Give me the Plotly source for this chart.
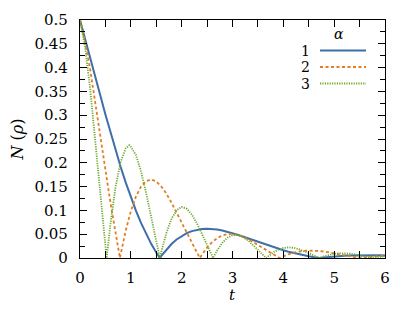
import plotly.graph_objects as go

# time samples (with zero crossings inserted)
t1 = [0.0,0.1,0.2,0.3,0.4,0.5,0.6,0.7,0.8,0.9,1.0,1.1,1.2,1.3,1.4,1.5,1.5708,1.6,1.7,1.8,1.9,2.0,2.1,2.2,2.3,2.4,2.5,2.6,2.7,2.8,2.9,3.0,3.1,3.2,3.3,3.4,3.5,3.6,3.7,3.8,3.9,4.0,4.1,4.2,4.3,4.4,4.5,4.6,4.7,4.7124,4.8,4.9,5.0,5.1,5.2,5.3,5.4,5.5,5.6,5.7,5.8,5.9,6.0]
n1 = [0.5,0.4616,0.4218,0.3815,0.3412,0.3016,0.2631,0.2262,0.1912,0.1583,0.1276,0.0994,0.0737,0.0505,0.0298,0.0115,0.0,0.0044,0.0180,0.0294,0.0389,0.0464,0.0522,0.0565,0.0594,0.0610,0.0614,0.0610,0.0597,0.0578,0.0552,0.0522,0.0489,0.0453,0.0416,0.0378,0.0339,0.0301,0.0265,0.0229,0.0195,0.0163,0.0133,0.0105,0.0080,0.0057,0.0036,0.0018,0.0002,0.0,0.0012,0.0024,0.0033,0.0041,0.0047,0.0052,0.0055,0.0057,0.0058,0.0058,0.0058,0.0056,0.0054]

t2 = [0.0,0.1,0.2,0.3,0.4,0.5,0.6,0.7,0.7854,0.8,0.9,1.0,1.1,1.2,1.3,1.4,1.5,1.6,1.7,1.8,1.9,2.0,2.1,2.2,2.3,2.3562,2.4,2.5,2.6,2.7,2.8,2.9,3.0,3.1,3.2,3.3,3.4,3.5,3.6,3.7,3.8,3.9,3.927,4.0,4.1,4.2,4.3,4.4,4.5,4.6,4.7,4.8,4.9,5.0,5.1,5.2,5.3,5.4,5.4978,5.6,5.7,5.8,5.9,6.0]
n2 = [0.5,0.4547,0.3964,0.3295,0.2581,0.1857,0.1155,0.0503,0.0,0.0080,0.0578,0.0983,0.1289,0.1499,0.1616,0.1649,0.1608,0.1503,0.1351,0.1162,0.0952,0.0729,0.0507,0.0295,0.0100,0.0,0.0072,0.0218,0.0334,0.0419,0.0475,0.0503,0.0506,0.0487,0.0451,0.0400,0.0340,0.0273,0.0204,0.0137,0.0073,0.0015,0.0,0.0036,0.0078,0.0112,0.0135,0.0150,0.0156,0.0155,0.0147,0.0135,0.0118,0.0099,0.0078,0.0057,0.0036,0.0017,0.0,0.0015,0.0028,0.0037,0.0043,0.0047]

t3 = [0.0,0.1,0.2,0.3,0.4,0.5,0.5236,0.6,0.7,0.8,0.9,0.97,1.0,1.1,1.2,1.3,1.4,1.5,1.5708,1.6,1.7,1.8,1.9,2.0,2.1,2.2,2.3,2.4,2.5,2.6,2.618,2.7,2.8,2.9,3.0,3.1,3.2,3.3,3.4,3.5,3.6,3.6652,3.7,3.8,3.9,4.0,4.1,4.2,4.3,4.4,4.5,4.6,4.7,4.7124,4.8,4.9,5.0,5.1,5.2,5.3,5.4,5.5,5.6,5.7,5.7596,5.8,5.9,6.0]
n3 = [0.5,0.4432,0.3552,0.2482,0.1342,0.0243,0.0,0.0724,0.1493,0.2023,0.2302,0.2370,0.2338,0.2164,0.1823,0.1369,0.0858,0.0342,0.0,0.0132,0.0528,0.0823,0.1004,0.1072,0.1035,0.0912,0.0727,0.0503,0.0266,0.0038,0.0,0.0161,0.0318,0.0425,0.0480,0.0485,0.0447,0.0374,0.0279,0.0172,0.0065,0.0,0.0033,0.0114,0.0174,0.0210,0.0223,0.0215,0.0188,0.0149,0.0102,0.0053,0.0005,0.0,0.0036,0.0068,0.0090,0.0100,0.0100,0.0092,0.0077,0.0057,0.0035,0.0012,0.0,0.0008,0.0025,0.0037]

alphas = ["1", "2", "3"]
x_ticks = [0, 1, 2, 3, 4, 5, 6]

colors = ["#3d6fa9", "#e07e22", "#6ca82c"]
dashes = ["solid", "3px,2.5px", "1.2px,1.2px"]
widths = [2, 1.8, 1.8]
FONT = "DejaVu Serif"

fig = go.Figure()
for tt, nn, c, d, w, a in zip([t1, t2, t3], [n1, n2, n3], colors, dashes, widths, alphas):
    fig.add_trace(go.Scatter(x=tt, y=nn, mode="lines", name=a,
                             line=dict(color=c, width=w, dash=d),
                             showlegend=False))

# page body has an 8px margin: figure is offset by (8, 8) in the window
OFF = 8
W, H = 407, 296
L, T = 80 - OFF, 20 - OFF
pw, ph = 305, 238
R, B = W - L - pw, H - T - ph

def px(x):
    return (x - OFF - L) / pw

def py(y):
    return (T + ph - (y - OFF)) / ph

shapes = []
annotations = []
ys = [50.5, 67, 83.5]
for a, c, d, w, yy in zip(alphas, colors, dashes, widths, ys):
    shapes.append(dict(type="line", xref="paper", yref="paper",
                       x0=px(320), x1=px(366), y0=py(yy), y1=py(yy),
                       line=dict(color=c, width=w, dash=d)))
    annotations.append(dict(xref="paper", yref="paper", x=px(312), y=py(yy),
                            text=a, showarrow=False, xanchor="right", yanchor="middle",
                            font=dict(family=FONT, size=14, color="black")))
annotations.append(dict(xref="paper", yref="paper", x=px(339), y=py(34),
                        text="<i>α</i>", showarrow=False, xanchor="center", yanchor="middle",
                        font=dict(family=FONT, size=14, color="black")))
# x-axis title
annotations.append(dict(xref="paper", yref="paper", x=px(232), y=py(295),
                        text="<i>t</i>", showarrow=False, xanchor="center", yanchor="middle",
                        font=dict(family=FONT, size=15, color="black")))

axis_common = dict(showline=True, linecolor="black", linewidth=1.2, mirror="ticks",
                   ticks="inside", ticklen=7, tickwidth=1.2, tickcolor="black",
                   showgrid=False, zeroline=False, automargin=False,
                   tickfont=dict(family=FONT, size=15, color="black"))

fig.update_layout(
    width=W, height=H,
    margin=dict(l=L, r=R, t=T, b=B),
    paper_bgcolor="white", plot_bgcolor="white",
    shapes=shapes, annotations=annotations,
    xaxis=dict(range=[0, 6], tickvals=x_ticks, ticklabelstandoff=6,
               minor=dict(ticks="inside", ticklen=7, tickwidth=1.2, tickcolor="black", dtick=0.5, tick0=0),
               **axis_common),
    yaxis=dict(range=[0, 0.5], tick0=0, dtick=0.05, ticklabelstandoff=8,
               minor=dict(ticks="inside", ticklen=5, tickwidth=1.2, tickcolor="black", dtick=0.025, tick0=0),
               title=dict(text="<i>N</i> (<i>ρ</i>)", font=dict(family=FONT, size=16, color="black"), standoff=16),
               **axis_common),
)

fig.write_html("out.html")
